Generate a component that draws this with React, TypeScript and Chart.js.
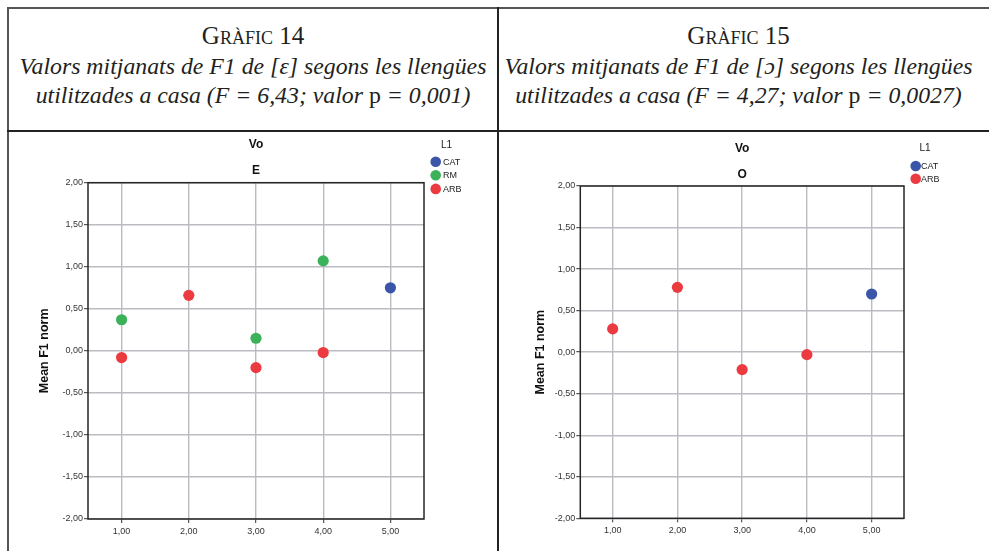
import React, { useEffect, useRef } from 'react';
import { Chart, registerables } from 'chart.js';

Chart.register(...registerables);

// ---------- data ----------
const xTicks = [1, 2, 3, 4, 5];
const yTicks = [-2, -1.5, -1, -0.5, 0, 0.5, 1, 1.5, 2];

const legendTitle = 'L1';
const groups14 = ['CAT', 'RM', 'ARB'];
const groups15 = ['CAT', 'ARB'];

// Gràfic 14 – vowel E
const e_CAT_x = [5];
const e_CAT_y = [0.75];
const e_RM_x = [1, 3, 4];
const e_RM_y = [0.37, 0.15, 1.07];
const e_ARB_x = [1, 2, 3, 4];
const e_ARB_y = [-0.08, 0.66, -0.2, -0.02];

// Gràfic 15 – vowel O
const o_CAT_x = [5];
const o_CAT_y = [0.7];
const o_ARB_x = [1, 2, 3, 4];
const o_ARB_y = [0.28, 0.78, -0.21, -0.03];

const groupColors: Record<string, string> = {
  CAT: '#3b56a8',
  RM: '#3bb25a',
  ARB: '#ec3b40',
};

// ---------- helpers ----------
const fmt = (v: number) => v.toFixed(2).replace('.', ',');
const SANS = '"Liberation Sans", Arial, sans-serif';
const SERIF = '"Liberation Serif", "Times New Roman", serif';

const pts = (xs: number[], ys: number[]) => xs.map((x, i) => ({ x, y: ys[i] }));

const sideLegend = {
  id: 'sideLegend',
  afterDraw(chart: any, _args: any, opts: any) {
    const { ctx, chartArea } = chart;
    ctx.save();
    ctx.fillStyle = '#222';
    ctx.font = `10px ${SANS}`;
    ctx.textAlign = 'center';
    ctx.textBaseline = 'middle';
    ctx.fillText(opts.title, chartArea.right + opts.titleDx, chartArea.top + opts.titleDy);
    chart.data.datasets.forEach((ds: any, i: number) => {
      const y = chartArea.top + opts.itemDy + i * opts.itemGap;
      ctx.beginPath();
      ctx.fillStyle = ds.backgroundColor;
      ctx.arc(chartArea.right + opts.markerDx, y, opts.markerR, 0, Math.PI * 2);
      ctx.fill();
      ctx.fillStyle = '#222';
      ctx.font = `9px ${SANS}`;
      ctx.textAlign = 'left';
      ctx.fillText(ds.label, chartArea.right + opts.textDx, y + 0.5);
    });
    ctx.restore();
  },
};

const plotBox = {
  id: 'plotBox',
  beforeDatasetsDraw(chart: any) {
    const { ctx, chartArea } = chart;
    ctx.save();
    ctx.strokeStyle = '#262626';
    ctx.lineWidth = 1.5;
    ctx.strokeRect(chartArea.left, chartArea.top, chartArea.right - chartArea.left, chartArea.bottom - chartArea.top);
    ctx.restore();
  },
};

type Geo = {
  yWidth: number;
  yTitlePad: number;
  padRight: number;
  padBottom: number;
  titlePadTop: number;
  subPadTop: number;
  legend: any;
};

type Series = { label: string; xs: number[]; ys: number[] };

function ScatterPanel({ width, height, title, subtitle, series, geo }: {
  width: number; height: number; title: string; subtitle: string; series: Series[]; geo: Geo;
}) {
  const ref = useRef<HTMLCanvasElement>(null);
  useEffect(() => {
    if (!ref.current) return;
    const gridColor = '#babcc2';
    const chart = new Chart(ref.current, {
      type: 'scatter',
      data: {
        datasets: series.map((s) => ({
          label: s.label,
          data: pts(s.xs, s.ys),
          backgroundColor: groupColors[s.label],
          borderColor: groupColors[s.label],
          pointRadius: 5.6,
          pointHoverRadius: 5.6,
          pointBorderWidth: 0,
        })),
      },
      options: {
        responsive: false,
        animation: false,
        devicePixelRatio: 1,
        layout: { padding: { left: 0, right: geo.padRight, top: 0, bottom: geo.padBottom } },
        plugins: {
          legend: { display: false },
          tooltip: { enabled: false },
          title: {
            display: true,
            text: title,
            fullSize: false,
            color: '#111',
            font: { family: SANS, size: 12, weight: 'bold', lineHeight: 1.2 },
            padding: { top: geo.titlePadTop, bottom: 0 },
          },
          subtitle: {
            display: true,
            text: subtitle,
            fullSize: false,
            color: '#111',
            font: { family: SANS, size: 12, weight: 'bold', lineHeight: 1.2 },
            padding: { top: geo.subPadTop, bottom: 4.5 },
          },
          sideLegend: { title: legendTitle, ...geo.legend },
        } as any,
        scales: {
          x: {
            type: 'linear',
            min: 0.5,
            max: 5.5,
            afterBuildTicks: (s: any) => { s.ticks = xTicks.map((v) => ({ value: v })); },
            afterFit: (s: any) => { s.height = 20; },
            ticks: {
              callback: (v: any) => fmt(Number(v)),
              font: { family: SANS, size: 9 },
              color: '#333',
              padding: 3,
              maxRotation: 0,
              autoSkip: false,
            },
            grid: { color: gridColor, lineWidth: 1.4, tickLength: 4, tickColor: '#333', tickWidth: 1 },
            border: { display: false },
          },
          y: {
            type: 'linear',
            min: -2,
            max: 2,
            afterBuildTicks: (s: any) => { s.ticks = yTicks.map((v) => ({ value: v })); },
            afterFit: (s: any) => { s.width = geo.yWidth; },
            ticks: {
              callback: (v: any) => fmt(Number(v)),
              font: { family: SANS, size: 9 },
              color: '#333',
              padding: 1,
              autoSkip: false,
            },
            grid: { color: gridColor, lineWidth: 1.4, tickLength: 4, tickColor: '#333', tickWidth: 1 },
            border: { display: false },
            title: {
              display: true,
              text: 'Mean F1 norm',
              color: '#111',
              font: { family: SANS, size: 12.5, weight: 'bold', lineHeight: 1.2 },
              padding: { top: geo.yTitlePad, bottom: 0 },
            },
          },
        },
      },
      plugins: [sideLegend, plotBox],
    });
    return () => chart.destroy();
  }, []);
  return <canvas ref={ref} width={width} height={height} style={{ width, height, display: 'block' }} />;
}

const headerLine: React.CSSProperties = {
  position: 'absolute',
  left: 0,
  width: '100%',
  textAlign: 'center',
  fontFamily: SERIF,
  fontSize: 23.8,
  lineHeight: '26px',
  whiteSpace: 'nowrap',
  color: '#231f20',
};

function Header({ left, width, num, vowel, F, p }: { left: number; width: number; num: string; vowel: string; F: string; p: string }) {
  return (
    <div style={{ position: 'absolute', left, top: 0, width, height: 130 }}>
      <div style={{ ...headerLine, top: 23, fontSize: 25, fontVariant: 'small-caps' }}>Gràfic {num}</div>
      <div style={{ ...headerLine, top: 53, fontStyle: 'italic' }}>
        Valors mitjanats de F1 de [{vowel}] segons les llengües
      </div>
      <div style={{ ...headerLine, top: 82, fontStyle: 'italic' }}>
        utilitzades a casa (F = {F}; valor <span style={{ fontStyle: 'normal' }}>p</span> = {p})
      </div>
    </div>
  );
}

export default function App() {
  const geo14: Geo = {
    yWidth: 79,
    yTitlePad: 28.5,
    padRight: 73,
    padBottom: 12,
    titlePadTop: 5.8,
    subPadTop: 11.6,
    legend: { titleDx: 22.5, titleDy: -37.7, markerDx: 11.7, itemDy: -21, itemGap: 13.6, textDx: 19, markerR: 5.3 },
  };
  const geo15: Geo = {
    yWidth: 81.3,
    yTitlePad: 34.5,
    padRight: 85,
    padBottom: 12.7,
    titlePadTop: 9.8,
    subPadTop: 10.9,
    legend: { titleDx: 21, titleDy: -37.7, markerDx: 11.7, itemDy: -20, itemGap: 12.7, textDx: 17, markerR: 5.3 },
  };
  const series14: Series[] = [
    { label: groups14[0], xs: e_CAT_x, ys: e_CAT_y },
    { label: groups14[1], xs: e_RM_x, ys: e_RM_y },
    { label: groups14[2], xs: e_ARB_x, ys: e_ARB_y },
  ];
  const series15: Series[] = [
    { label: groups15[0], xs: o_CAT_x, ys: o_CAT_y },
    { label: groups15[1], xs: o_ARB_x, ys: o_ARB_y },
  ];
  return (
    <div style={{ position: 'absolute', left: 0, top: 0, width: 989, height: 551, overflow: 'hidden', background: '#fff' }}>
      {/* table lines */}
      <div style={{ position: 'absolute', left: 7, top: 7, width: 982, height: 2, background: '#555' }} />
      <div style={{ position: 'absolute', left: 7, top: 7, width: 2, height: 544, background: '#555' }} />
      <div style={{ position: 'absolute', left: 7, top: 130, width: 982, height: 2, background: '#222' }} />
      <div style={{ position: 'absolute', left: 497, top: 7, width: 2, height: 544, background: '#222' }} />

      <Header left={9} width={488} num="14" vowel="ɛ" F="6,43" p="0,001" />
      <Header left={499} width={479} num="15" vowel="ɔ" F="4,27" p="0,0027" />

      <div style={{ position: 'absolute', left: 9, top: 132 }}>
        <ScatterPanel width={488} height={419} title="Vo" subtitle="E" series={series14} geo={geo14} />
      </div>
      <div style={{ position: 'absolute', left: 499, top: 132 }}>
        <ScatterPanel width={490} height={419} title="Vo" subtitle="O" series={series15} geo={geo15} />
      </div>
    </div>
  );
}
